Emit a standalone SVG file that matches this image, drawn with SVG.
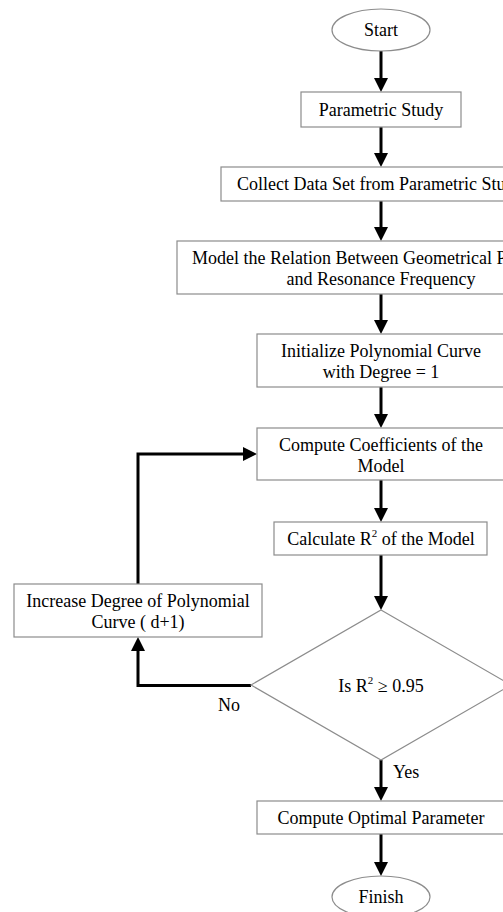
<svg xmlns="http://www.w3.org/2000/svg" width="503" height="912" viewBox="0 0 503 912">
<style>
.box{fill:#fff;stroke:#8c8c8c;stroke-width:1.2}
.t{font-family:"Liberation Serif","Times New Roman",serif;font-size:18px;fill:#000}
.c{text-anchor:middle}
.sup{font-size:11px}
.arr{fill:none;stroke:#000;stroke-width:3;marker-end:url(#ah)}
</style>
<defs>
<marker id="ah" markerUnits="userSpaceOnUse" markerWidth="14" markerHeight="14" refX="9" refY="7" orient="auto">
<path d="M0,0 L14,7 L0,14 z" fill="#000"/>
</marker>
</defs>
<rect width="503" height="912" fill="#fff"/>
<g id="connectors">
<line class="arr" x1="381" y1="51" x2="381" y2="87"/>
<line class="arr" x1="381" y1="127" x2="381" y2="162"/>
<line class="arr" x1="381" y1="201" x2="381" y2="236"/>
<line class="arr" x1="381" y1="294" x2="381" y2="329"/>
<line class="arr" x1="381" y1="387" x2="381" y2="423"/>
<line class="arr" x1="381" y1="480" x2="381" y2="517"/>
<line class="arr" x1="381" y1="555" x2="381" y2="605"/>
<line class="arr" x1="381" y1="760" x2="381" y2="796"/>
<line class="arr" x1="381" y1="834" x2="381" y2="871"/>
<polyline class="arr" points="251,685.5 138,685.5 138,642"/>
<polyline class="arr" points="138,584 138,454 252,454"/>
</g>
<g id="start">
<ellipse class="box" cx="381" cy="30" rx="49" ry="21"/>
<text class="t c" x="381" y="36">Start</text>
</g>
<g id="parametric-study">
<rect class="box" x="301" y="92" width="160" height="35"/>
<text class="t c" x="381" y="116">Parametric Study</text>
</g>
<g id="collect-data">
<rect class="box" x="221" y="167" width="320" height="34"/>
<text class="t" x="237" y="190">Collect Data Set from Parametric Stu</text>
</g>
<g id="model-relation">
<rect class="box" x="177" y="241" width="408" height="53"/>
<text class="t" x="192" y="264">Model the Relation Between Geometrical P</text>
<text class="t c" x="381" y="285">and Resonance Frequency</text>
</g>
<g id="initialize">
<rect class="box" x="257" y="334" width="248" height="53"/>
<text class="t c" x="381" y="357">Initialize Polynomial Curve</text>
<text class="t c" x="381" y="378">with Degree = 1</text>
</g>
<g id="compute-coefficients">
<rect class="box" x="257" y="428" width="248" height="52"/>
<text class="t c" x="381" y="451">Compute Coefficients of the</text>
<text class="t c" x="381" y="472">Model</text>
</g>
<g id="calculate-r2">
<rect class="box" x="274" y="522" width="213" height="33"/>
<text class="t c" x="381" y="545">Calculate R<tspan class="sup" dy="-8">2</tspan><tspan dy="8">  of the Model</tspan></text>
</g>
<g id="decision">
<polygon class="box" points="381,610 511,685 381,760 251,685"/>
<text class="t c" x="381" y="692">Is R<tspan class="sup" dy="-8">2</tspan><tspan dy="8"> ≥ 0.95</tspan></text>
<text class="t" x="218" y="711">No</text>
<text class="t" x="393" y="778">Yes</text>
</g>
<g id="increase-degree">
<rect class="box" x="14" y="584" width="248" height="53"/>
<text class="t c" x="138" y="607">Increase Degree of Polynomial</text>
<text class="t c" x="138" y="628">Curve ( d+1)</text>
</g>
<g id="compute-optimal">
<rect class="box" x="257" y="801" width="248" height="33"/>
<text class="t c" x="381" y="824">Compute Optimal Parameter</text>
</g>
<g id="finish">
<ellipse class="box" cx="381" cy="897" rx="49" ry="21"/>
<text class="t c" x="381" y="903">Finish</text>
</g>
</svg>
